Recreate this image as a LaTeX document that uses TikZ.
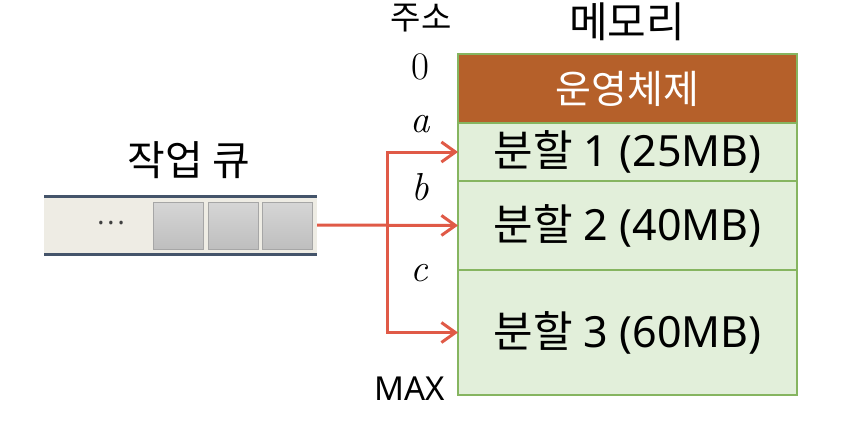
\documentclass[tikz,border=0pt]{standalone}
\usepackage{fontspec}
\setmainfont{Noto Sans}
\newfontfamily\kr{Noto Sans CJK KR}
\newfontfamily\addrfont{Latin Modern Roman}
\usetikzlibrary{positioning,arrows.meta}
\definecolor{osfill}{HTML}{B5602A}
\definecolor{memfill}{HTML}{E2EFDA}
\definecolor{memline}{HTML}{86B560}
\definecolor{arrowred}{HTML}{E05A47}
\definecolor{queueline}{HTML}{44546A}
\definecolor{queuefill}{HTML}{EEECE4}
\definecolor{celltop}{HTML}{D6D6D6}
\definecolor{cellbot}{HTML}{BEBEBE}

\begin{document}
\begin{tikzpicture}[x=1pt, y=-1pt, node distance=0pt,
  part/.style = {draw=memline, fill=memfill, line width=1.5pt, minimum width=339pt,
                 inner sep=0pt, outer sep=0pt, font=\fontsize{43}{48}\selectfont},
  cell/.style = {draw=gray!70, top color=celltop, bottom color=cellbot, line width=1pt,
                 minimum width=50pt, minimum height=47pt, inner sep=0pt, outer sep=0pt},
  addr/.style = {font=\addrfont\itshape\fontsize{39}{40}\selectfont},
  link/.style = {draw=arrowred, line width=3pt, -{Straight Barb[length=14pt, width=20pt, line width=3pt]}}]
  \useasboundingbox (0,0) rectangle (856,442);

  % memory
  \node[part, fill=osfill, minimum height=69pt, anchor=north west, text=white,
        font=\fontsize{39}{44}\selectfont] (os) at (458,54) {\kr 운영체제};
  \node[part, minimum height=58pt, below=of os] (p1) {{\kr 분할} 1 (25MB)};
  \node[part, minimum height=89pt, below=of p1] (p2) {{\kr 분할} 2 (40MB)};
  \node[part, minimum height=125pt, below=of p2] (p3) {{\kr 분할} 3 (60MB)};
  \node[font=\kr\fontsize{42}{46}\selectfont] (mem) at (627,22) {메모리};

  % addresses
  \node[font=\kr\fontsize{33}{36}\selectfont] (addr) at (421,18) {주소};
  \node[addr, font=\addrfont\fontsize{39}{40}\selectfont] (a0) at (420,67) {0};
  \node[addr] (aa) at (420,124) {a};
  \node[addr] (ab) at (420,187) {b};
  \node[addr] (ac) at (419,273) {c};
  \node[font=\fontsize{33}{36}\selectfont] (amax) at (410,389) {MAX};

  % job queue
  \fill[queuefill] (44,196) rectangle (317,254);
  \draw[queueline, line width=3pt] (44,196) -- (317,196) (44,254) -- (317,254);
  \node[inner sep=0pt, minimum width=273pt, minimum height=58pt] (queue) at (180.5,225) {};
  \node[cell] (c1) at (178,225.5) {};
  \node[cell] (c2) at (233,225.5) {};
  \node[cell] (c3) at (287,225.5) {};
  \node[font=\fontsize{15}{18}\selectfont, text=black!75] (dots) at (111,225) {•\hspace{4.5pt}•\hspace{4.5pt}•};
  \node[font=\kr\fontsize{41}{46}\selectfont] (jq) at (189,160) {작업 큐};

  % links
  \coordinate (split) at (387,225.5);
  \draw[link] (queue.east) -- (p2.west);
  \draw[link] (split) |- (p1.west);
  \draw[link] (split) |- (p3.west);
\end{tikzpicture}
\end{document}
